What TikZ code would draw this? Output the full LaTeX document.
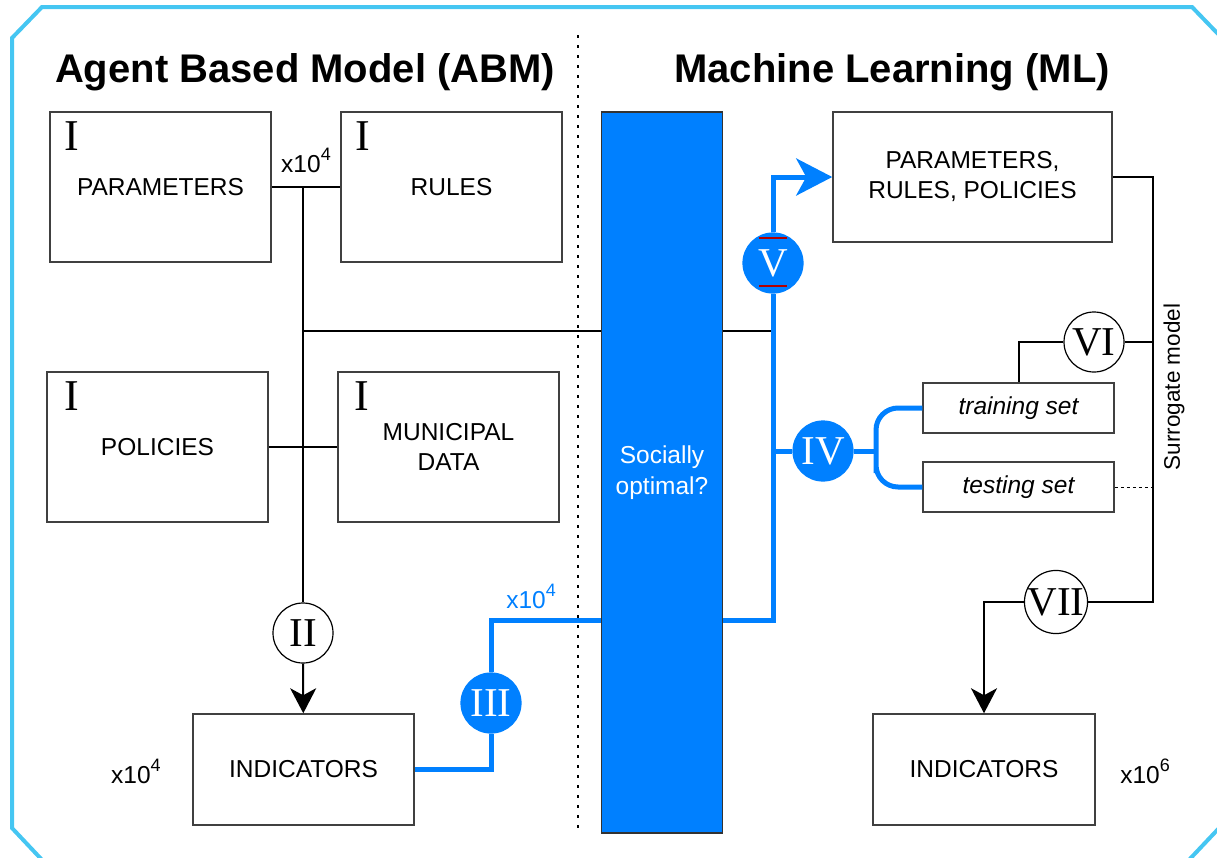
\documentclass[tikz,border=0pt]{standalone}
\usepackage{fontspec}
\setmainfont{Liberation Sans}
\newfontfamily\romanfont{Liberation Serif}
\usetikzlibrary{arrows.meta,positioning}
\definecolor{abmblue}{RGB}{0,128,255}
\definecolor{framecyan}{RGB}{69,198,242}
\newcommand\xpow[1]{x10\raisebox{.45em}{\fontsize{18}{18}\selectfont#1}}
\begin{document}
\begin{tikzpicture}[>={Stealth[length=25pt,width=26pt,inset=7pt]},x=1pt,y=-1pt,
	box/.style={draw=black!75,line width=1.5pt,minimum width=221pt,minimum height=150pt,align=center,inner sep=0pt,font=\fontsize{24.5}{30}\selectfont},
	setbox/.style={box,minimum width=191pt,minimum height=50pt,font=\fontsize{24.5}{30}\selectfont\itshape},
	stage/.style={circle,draw=black,line width=1.2pt,fill=white,minimum size=60pt,inner sep=0pt,font=\romanfont\fontsize{41}{41}\selectfont},
	bstage/.style={stage,draw=abmblue,fill=abmblue,text=white},
	tag/.style={inner sep=0pt,font=\romanfont\fontsize{44}{44}\selectfont},
	mult/.style={inner sep=0pt,anchor=base,font=\fontsize{24.5}{24}\selectfont},
	head/.style={inner sep=0pt,anchor=base,font=\bfseries\fontsize{40}{40}\selectfont},
	wire/.style={line width=2pt},
	bwire/.style={line width=5pt,draw=abmblue},
	bigtip/.style={-{Stealth[length=36pt,width=37pt,inset=10pt]}},
	redmark/.style={draw=red!70!black,line width=1.5pt},
	frame/.style={draw=framecyan,line width=4pt}]
	\useasboundingbox (0,0) rectangle (1217,857);
	\clip (0,0) rectangle (1217,857);
	\draw[frame] (12,38) -- (42,7) -- (1192,7) -- (1221,37) -- (1221,826) -- (1187,862) -- (44,862) -- (12,828) -- cycle;
	% headings and separator
	\node[head] (abm) at (305,82) {Agent Based Model (ABM)};
	\node[head] (ml) at (892,82) {Machine Learning (ML)};
	\coordinate (sepTop) at (578,35);
	\coordinate (sepBot) at (578,835);
	\draw[line width=2pt,dash pattern=on 2.5pt off 7.5pt] (sepTop) -- (sepBot);
	% ABM inputs
	\node[box] (par) at (160.5,187) {PARAMETERS};
	\node[box] (rul) at (451.5,187) {RULES};
	\node[box] (pol) at (157.5,447) {POLICIES};
	\node[box] (mun) at (448.5,447) {MUNICIPAL\\DATA};
	\node[tag,below right=10pt and 15pt of par.north west] (parI) {I};
	\node[tag,below right=10pt and 15pt of rul.north west] (rulI) {I};
	\node[tag,below right=10pt and 18pt of pol.north west] (polI) {I};
	\node[tag,below right=10pt and 17pt of mun.north west] (munI) {I};
	\node[box,minimum height=111pt] (indl) at (303.5,769.5) {INDICATORS};
	% middle bar
	\node[draw=black!80,line width=1.5pt,fill=abmblue,minimum width=121pt,minimum height=721pt,text=white,align=center,font=\fontsize{24.5}{31}\selectfont] (bar) at (662,472.5) {Socially\\optimal?};
	% ML side
	\node[box,minimum width=279pt,minimum height=130pt] (prp) at (972.5,177) {PARAMETERS,\\RULES, POLICIES};
	\node[setbox] (train) at (1018.5,408) {training set};
	\node[setbox] (test) at (1018.5,487) {testing set};
	\node[box,minimum width=222pt,minimum height=111pt] (indr) at (984,769.5) {INDICATORS};
	\node[rotate=90,font=\fontsize{22.5}{22}\selectfont] (surr) at (1174,387) {Surrogate model};
	% stages
	\node[stage] (ii) at (303,633) {II};
	\node[bstage] (iii) at (491,703) {III};
	\node[bstage] (v) at (773,263) {V};
	\node[bstage] (iv) at (823,451) {IV};
	\node[stage] (vi) at (1094,342) {VI};
	\node[stage] (vii) at (1056,602) {VII};
	\draw[redmark] ([shift={(-14,-25)}]v.center) -- ++(28,0);
	\draw[redmark] ([shift={(-14,23)}]v.center) -- ++(28,0);
	% multipliers
	\node[mult] (m1) at (306,172) {\xpow{4}};
	\node[mult] (m2) at (136,783) {\xpow{4}};
	\node[mult] (m3) at (1145,783) {\xpow{6}};
	\node[mult,text=abmblue] (m4) at (531,608) {\xpow{4}};
	% junctions
	\coordinate (j1) at (303,187);
	\coordinate (j2) at (303,331);
	\coordinate (j3) at (773,331);
	\coordinate (k1) at (491,620);
	\coordinate (k2) at (773,620);
	\coordinate (k3) at (773,451);
	\coordinate (fork) at (876,451);
	\coordinate (s1) at (1153,177);
	\coordinate (s2) at (1153,602);
	% black connectors
	\draw[wire] (par.east) -- (rul.west);
	\draw[wire] (j1) -- (ii);
	\draw[wire,->] (ii) -- (indl);
	\draw[wire] (pol.east) -- (mun.west);
	\draw[wire] (j2) -- (bar.west |- j2);
	\draw[wire] (bar.east |- j2) -- (j3);
	\draw[wire] (prp.east) -| (s2) -- (vii);
	\draw[wire,->] (vii) -| (indr);
	\draw[wire] (vi.east) -- (vi.east -| s1);
	\draw[wire] (vi.west) -| (train.north);
	\draw[line width=1pt,dash pattern=on 3pt off 3pt] (test.east) -- (test.east -| s1);
	% blue connectors
	\draw[bwire] (indl.east) -| (iii.south);
	\draw[bwire] (iii.north) |- (bar.west |- k1);
	\draw[bwire] (bar.east |- k2) -| (v.south);
	\draw[bwire,bigtip] (v.north) |- (prp.west);
	\draw[bwire] (k3) -- (iv);
	\draw[bwire] (iv) -- (fork);
	\draw[bwire,rounded corners=22pt] (train.west) -| (fork) |- (test.west);
\end{tikzpicture}
\end{document}
